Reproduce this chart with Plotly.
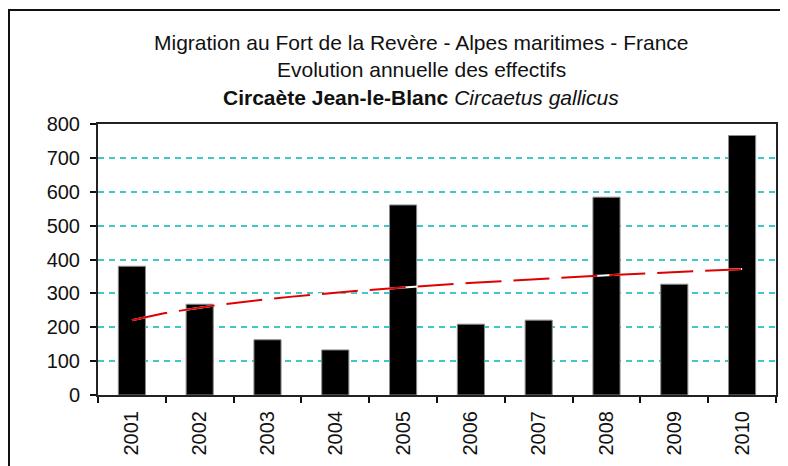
import numpy as np
import plotly.graph_objects as go

years = ["2001", "2002", "2003", "2004", "2005", "2006", "2007", "2008", "2009", "2010"]
counts = [380, 268, 163, 133, 561, 209, 221, 584, 327, 766]
y_ticks = [0, 100, 200, 300, 400, 500, 600, 700, 800]

title_l1 = "Migration au Fort de la Revère - Alpes maritimes - France"
title_l2 = "Evolution annuelle des effectifs"
title_l3 = "<b>Circaète Jean-le-Blanc</b> <i>Circaetus gallicus</i>"

# Power trendline (Excel-style) fitted on the data
idx = np.arange(1, len(counts) + 1)
c, d = np.polyfit(np.log(idx), np.log(counts), 1)
tx = np.linspace(1, len(counts), 60)
ty = np.exp(d) * tx ** c

FONT = "Liberation Sans, Arial, sans-serif"

# page offset caused by default body margin
OFF = 8
PL, PR, PT, PB = 98 - OFF, 776 - OFF, 124 - OFF, 395 - OFF
W, H = 788, 466
PW, PH = PR - PL, PB - PT

fig = go.Figure()
fig.add_bar(x=years, y=counts, xaxis="x", yaxis="y",
            marker=dict(color="black", line=dict(color="#8c8c8c", width=1)),
            hoverinfo="x+y")
fig.add_scatter(x=tx, y=ty, mode="lines", xaxis="x2", yaxis="y",
                line=dict(color="white", width=2), hoverinfo="skip")
fig.add_scatter(x=tx, y=ty, mode="lines", xaxis="x2", yaxis="y",
                line=dict(color="#E00000", width=2, dash="36px,12px"), hoverinfo="skip")

fig.update_layout(
    width=W, height=H,
    margin=dict(l=PL, r=W - PR, t=PT, b=H - PB),
    paper_bgcolor="white", plot_bgcolor="white",
    showlegend=False, bargap=0.6,
    font=dict(family=FONT, color="#111"),
    xaxis=dict(type="category", tickson="boundaries", ticks="outside", ticklen=6,
               tickcolor="#111", tickwidth=1.5, tickangle=-90,
               tickfont=dict(size=20, family=FONT, color="#111"),
               showline=True, linecolor="#222", linewidth=2, mirror=True,
               showgrid=False, ticklabelstandoff=6),
    xaxis2=dict(overlaying="x", range=[0.5, len(counts) + 0.5], visible=False),
    yaxis=dict(range=[0, 800], tickvals=y_ticks, ticks="outside", ticklen=6,
               tickcolor="#111", tickwidth=1.5,
               tickfont=dict(size=20, family=FONT, color="#111"),
               showline=True, linecolor="#222", linewidth=2, mirror=True,
               showgrid=True, gridcolor="#40C8C8", gridwidth=2, griddash="6px,5px",
               zeroline=False, ticklabelstandoff=6),
)

def ypaper(pix):
    return (PB - (pix - OFF)) / float(PH)

def xpaper(pix):
    return ((pix - OFF) - PL) / float(PW)

for txt, yp in [(title_l1, 42), (title_l2, 69.5), (title_l3, 97.5)]:
    fig.add_annotation(text=txt, xref="paper", yref="paper", x=xpaper(421), y=ypaper(yp),
                       xanchor="center", yanchor="middle", showarrow=False,
                       font=dict(size=21, family=FONT, color="#111"))

# outer chart frame (extends beyond the visible window, as in the reference)
fig.add_shape(type="rect", xref="paper", yref="paper",
              x0=xpaper(9), x1=1.5, y0=-1.0, y1=ypaper(10),
              line=dict(color="#111", width=2), layer="above")

fig.write_html("out.html")
